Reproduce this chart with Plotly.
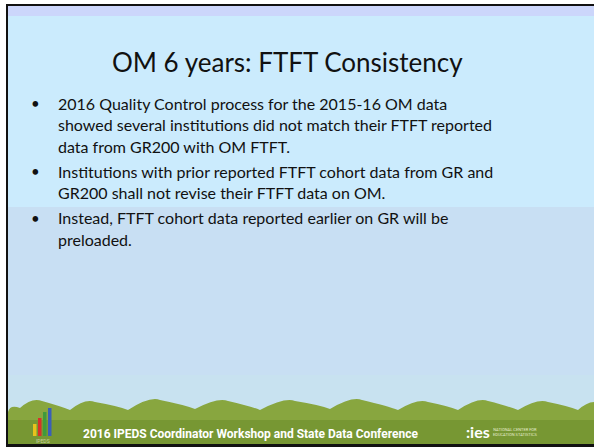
import plotly.graph_objects as go

W, H = 594, 447

title_text = "OM 6 years: FTFT Consistency"
bullets = [
    ["2016 Quality Control process for the 2015-16 OM data",
     "showed several institutions did not match their FTFT reported",
     "data from GR200 with OM FTFT."],
    ["Institutions with prior reported FTFT cohort data from GR and",
     "GR200 shall not revise their FTFT data on OM."],
    ["Instead, FTFT cohort data reported earlier on GR will be",
     "preloaded."],
]
footer_text = "2016 IPEDS Coordinator Workshop and State Data Conference"
ies_small_text = "NATIONAL CENTER FOR<br>EDUCATION STATISTICS"
logo_bar_colors = ["#e8c21c", "#d8302a", "#3f9a3c", "#3a5fb8"]
logo_bar_heights = [12, 18, 24, 28]

fig = go.Figure()
shapes = []
shapes.append(dict(type="rect", x0=0, y0=0, x1=W, y1=H, fillcolor="white", line_width=0, layer="below"))
shapes.append(dict(type="rect", x0=6, y0=4, x1=W, y1=H, fillcolor="#cbebfd", line_width=0, layer="below"))
shapes.append(dict(type="rect", x0=8, y0=6, x1=W, y1=16, fillcolor="#ccd6fb", line_width=0, layer="below"))
shapes.append(dict(type="rect", x0=8, y0=207, x1=W, y1=H, fillcolor="#c8dff3", line_width=0, layer="below"))
shapes.append(dict(type="rect", x0=8, y0=375, x1=W, y1=H, fillcolor="#c8e2f0", line_width=0, layer="below"))

# tree line silhouette
bumps = [(20, 408), (42, 401), (70, 410), (95, 402), (128, 410), (160, 400), (195, 409),
         (228, 401), (260, 410), (295, 401), (330, 409), (362, 400), (398, 410), (428, 402),
         (458, 410), (488, 401), (518, 410), (548, 402), (578, 410), (600, 403)]
path = "M 8,447 L 8,412 "
for x, y in bumps:
    path += f"Q {x-10},{y-4} {x},{y} "
path += "L 600,447 Z"
shapes.append(dict(type="path", path=path, fillcolor="#88a63f", line_width=0, layer="below"))
shapes.append(dict(type="rect", x0=8, y0=420, x1=W, y1=H, fillcolor="#6a8a2a", line_width=0, layer="below", opacity=0.55))

# black border lines
shapes.append(dict(type="rect", x0=6, y0=4, x1=W, y1=6, fillcolor="#111111", line_width=0))
shapes.append(dict(type="rect", x0=6, y0=4, x1=8, y1=H, fillcolor="#111111", line_width=0))
shapes.append(dict(type="rect", x0=6, y0=444, x1=W, y1=H, fillcolor="#111111", line_width=0))

# IPEDS logo bars
for i, (c, h) in enumerate(zip(logo_bar_colors, logo_bar_heights)):
    x0 = 33 + i * 5
    shapes.append(dict(type="rect", x0=x0, y0=436 - h, x1=x0 + 3.5, y1=436, fillcolor=c, line_width=0))

annotations = []
annotations.append(dict(x=287, y=62, text=title_text, showarrow=False, xanchor="center", yanchor="middle",
                        font=dict(family="Lato", size=26, color="#111111")))
y = 103
for bl in bullets:
    annotations.append(dict(x=35, y=y, text="•", showarrow=False, xanchor="center", yanchor="middle",
                            font=dict(family="Lato", size=15, color="#111111")))
    for line in bl:
        annotations.append(dict(x=56, y=y, text=line, showarrow=False, xanchor="left", yanchor="middle",
                                font=dict(family="Lato", size=16, color="#111111")))
        y += 21.5
    y += 3.5

annotations.append(dict(x=250, y=434, text="<b>" + footer_text + "</b>", showarrow=False, xanchor="center",
                        yanchor="middle", font=dict(family="Roboto", size=12, color="white")))
annotations.append(dict(x=478, y=431, text="<b>:ies</b>", showarrow=False, xanchor="center",
                        yanchor="middle", font=dict(family="Lato", size=16, color="white")))
annotations.append(dict(x=491, y=432, text=ies_small_text, showarrow=False, xanchor="left",
                        yanchor="middle", font=dict(family="Roboto", size=4, color="#e6edd0")))
annotations.append(dict(x=43, y=441, text="IPEDS", showarrow=False, xanchor="center",
                        yanchor="middle", font=dict(family="Roboto", size=5, color="#c8d0a0")))

fig.update_layout(
    width=W, height=H, margin=dict(l=0, r=0, t=0, b=0),
    paper_bgcolor="white", plot_bgcolor="white",
    xaxis=dict(range=[0, W], visible=False, fixedrange=True),
    yaxis=dict(range=[H, 0], visible=False, fixedrange=True),
    shapes=shapes, annotations=annotations, showlegend=False,
)
fig.write_html("out.html", config={"displayModeBar": False},
               post_script="document.body.style.margin='0';document.body.style.overflow='hidden';")
